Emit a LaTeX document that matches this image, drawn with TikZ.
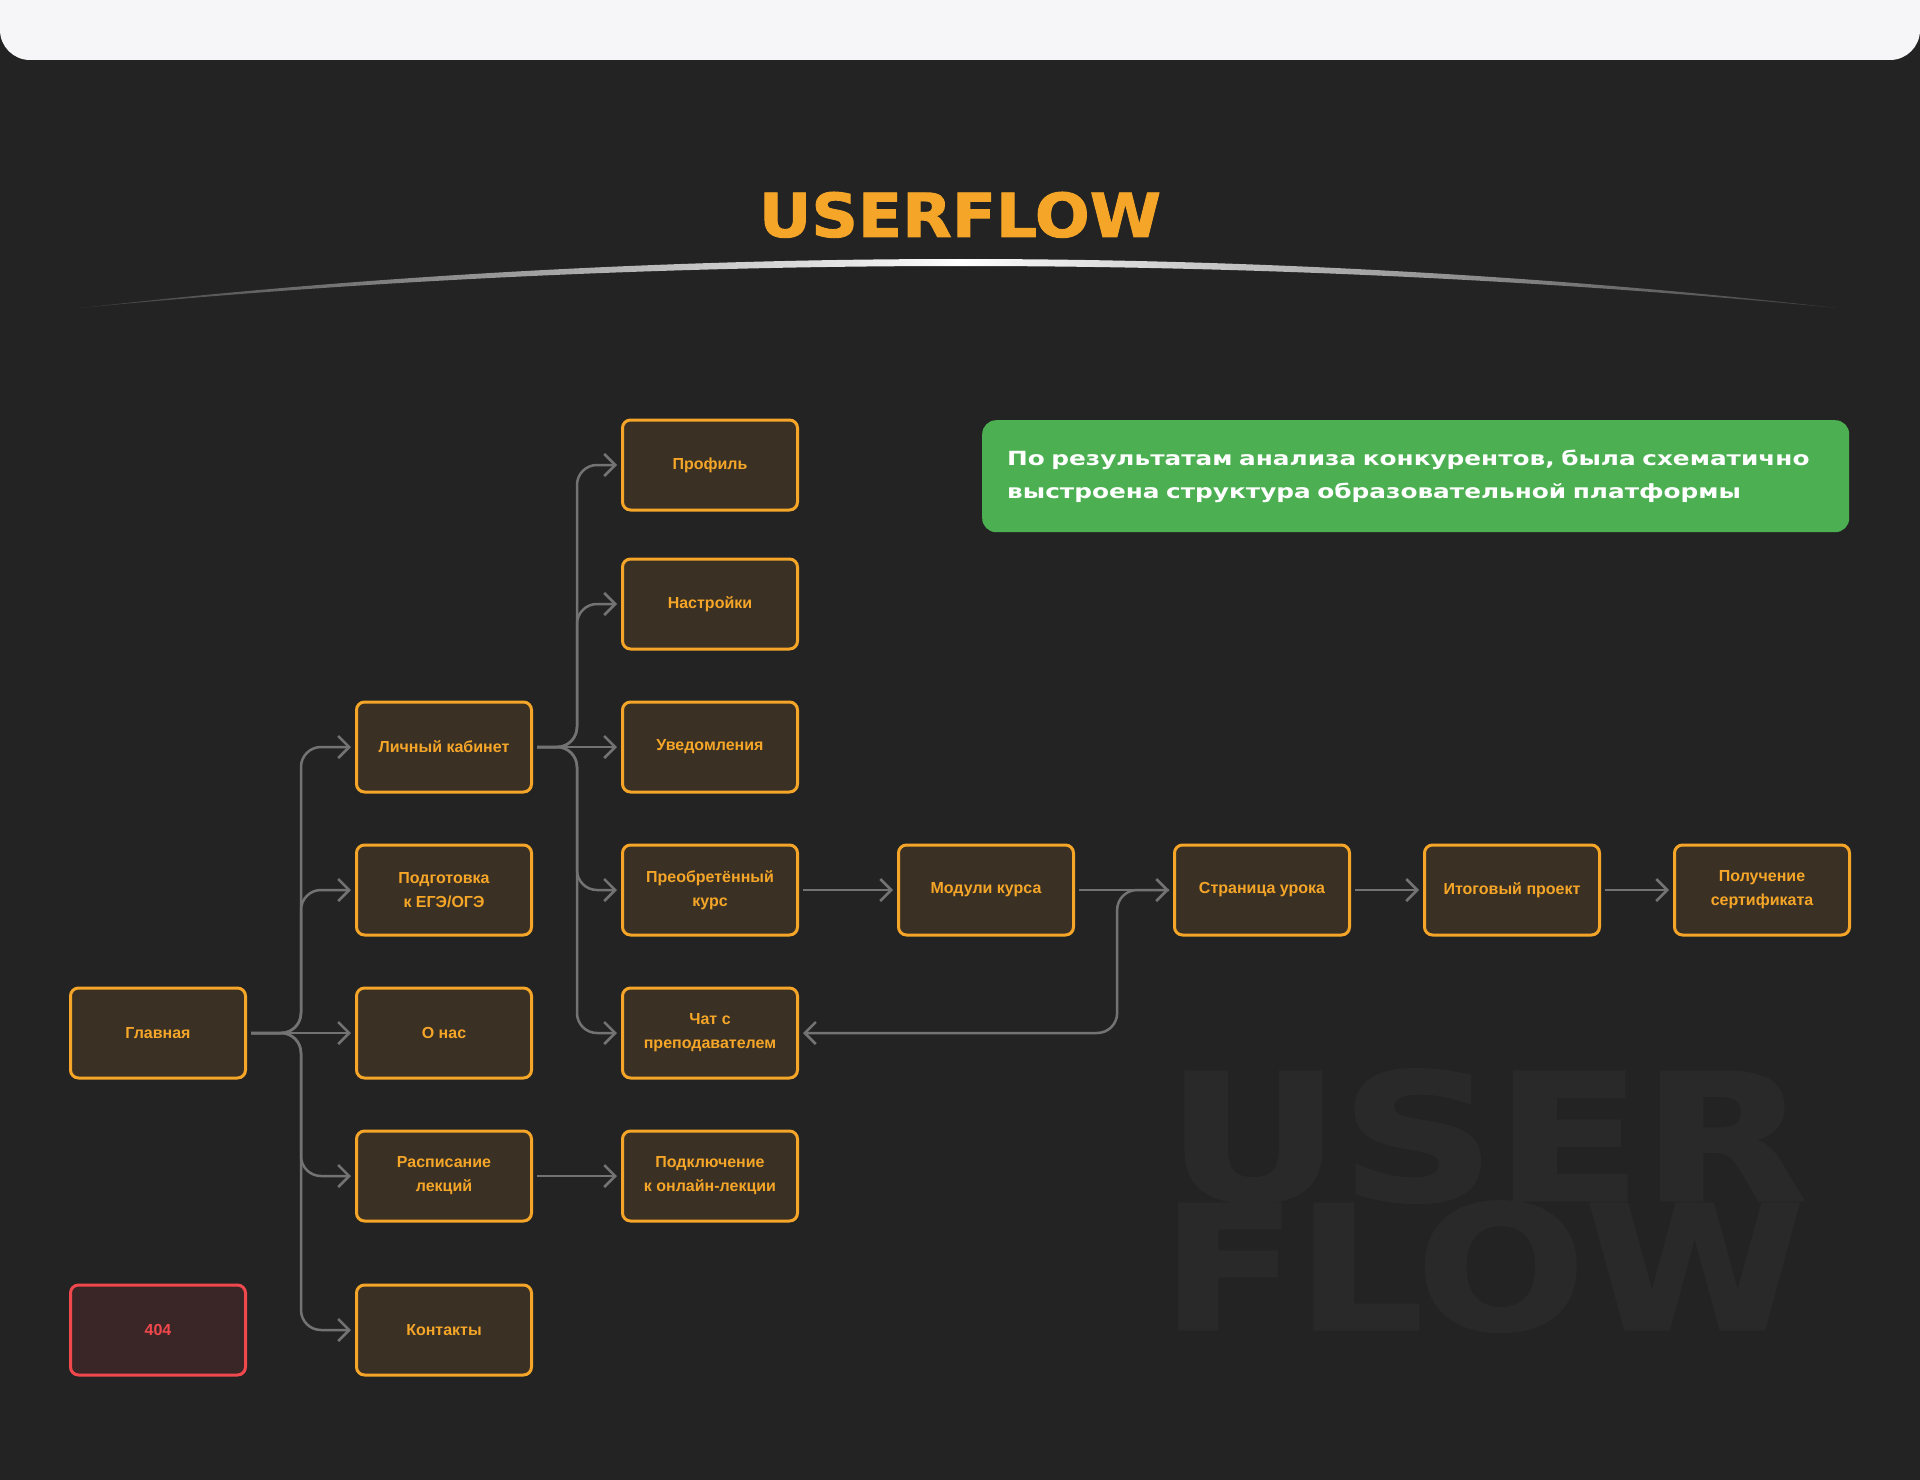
\documentclass[tikz,border=0pt]{standalone}
\usepackage{fontspec}
\setmainfont{Liberation Sans}
\newfontfamily\widefont[FakeStretch=1.27]{DejaVu Sans}
\newfontfamily\heavyfont[FakeBold=1.5]{DejaVu Sans Bold}
\usepackage{graphicx}
\usepackage{xcolor}
\usetikzlibrary{arrows.meta}
\usetikzlibrary{calc}

\definecolor{bgdark}{RGB}{35,35,35}
\definecolor{barlight}{RGB}{246,246,248}
\definecolor{arcfade}{RGB}{60,60,60}
\definecolor{flowor}{RGB}{245,166,40}
\definecolor{boxfill}{RGB}{58,48,36}
\definecolor{linkgray}{RGB}{115,115,115}
\definecolor{errred}{RGB}{240,72,76}
\definecolor{errfill}{RGB}{58,38,38}
\definecolor{notegreen}{RGB}{76,176,82}
\definecolor{ghost}{RGB}{41,41,41}

\tikzset{
  pg/.style={rectangle,rounded corners=8pt,draw=flowor,line width=3pt,fill=boxfill,
    minimum width=175pt,minimum height=90pt,text=flowor,align=center,
    font=\bfseries\fontsize{16}{24}\selectfont},
  errpg/.style={pg,draw=errred,fill=errfill,text=errred},
  link/.style={draw=linkgray,line width=2.5pt,rounded corners=20pt,
    -{Straight Barb[length=11pt,width=22pt]},shorten <=4pt,shorten >=4pt}
}

\begin{document}
\begin{tikzpicture}[x=1pt,y=-1pt]
\useasboundingbox (0,0) rectangle (1920,1480);
\fill[bgdark] (0,0) rectangle (1920,1480);
\begin{scope}
  \clip (0,0) rectangle (1920,1480);
  \fill[barlight,rounded corners=30pt] (0,-60) rectangle (1920,60);
\end{scope}

% heading
\node[anchor=south,inner sep=0,text=flowor] (title) at (960,238)
  {\resizebox{402pt}{45pt}{\heavyfont USERFLOW}};
\shade[left color=arcfade,right color=arcfade,middle color=white]
  (80,308) parabola bend (961,259) (1837,308)
  parabola bend (961,266) (80,308) -- cycle;

% background lettering
\node[anchor=south west,inner sep=0,text=ghost] (wmuser) at (1166,1203)
  {\resizebox{640pt}{131pt}{\heavyfont USER}};
\node[anchor=south west,inner sep=0,text=ghost] (wmflow) at (1161,1332)
  {\resizebox{643pt}{128pt}{\heavyfont FLOW}};

% note
\node[anchor=north west,fill=notegreen,rounded corners=14pt,text=white,
  text width=817pt,inner xsep=25pt,minimum height=112pt,align=left,
  font=\widefont\bfseries\fontsize{19.5}{33}\selectfont] (note) at (982,420)
  {По результатам анализа конкурентов, была схематично\\
   выстроена структура образовательной платформы};

% site map
\begin{scope}[every node/.style={pg},grow'=right,
  level 1/.style={level distance=286pt,sibling distance=143pt},
  level 2/.style={level distance=266pt,sibling distance=143pt},
  level 3/.style={level distance=276pt},
  level 4/.style={level distance=276pt},
  level 5/.style={level distance=250pt},
  level 6/.style={level distance=250pt},
  edge from parent/.style={draw=none}]
\node (main) at (158,1033) {Главная}
  child{node (cab) {Личный кабинет}
    child{node[yshift=-4pt] (prof) {Профиль}}
    child{node (sett) {Настройки}}
    child{node (notif) {Уведомления}}
    child{node (course) {Преобретённый\\курс}
      child{node (mods) {Модули курса}
        child{node (page) {Страница урока}
          child{node (final) {Итоговый проект}
            child{node (cert) {Получение\\сертификата}}}}}}
    child{node (chat) {Чат с\\преподавателем}}}
  child{node (prep) {Подготовка\\к ЕГЭ/ОГЭ}}
  child{node (about) {О нас}}
  child{node (sched) {Расписание\\лекций}
    child{node (live) {Подключение\\к онлайн-лекции}}}
  child{node[yshift=-11pt] (cont) {Контакты}};
\end{scope}
\node[errpg] (lost) at (158,1330) {404};

% connectors
\coordinate (jmain) at ($(main.east)!.5!(about.west)$);
\coordinate (jcab) at ($(cab.east)!.5!(notif.west)$);
\coordinate (jback) at ($(mods.east)!.43!(page.west)$);
\foreach \kid in {cab,prep,sched,cont}
  \draw[link] (main.east) -- (jmain) |- (\kid.west);
\draw[link] (main) -- (about);
\foreach \kid in {prof,sett,course,chat}
  \draw[link] (cab.east) -- (jcab) |- (\kid.west);
\draw[link] (cab) -- (notif);
\draw[link] (sched) -- (live);
\draw[link] (course) -- (mods);
\draw[link] (mods) -- (page);
\draw[link] (page) -- (final);
\draw[link] (final) -- (cert);
\draw[link] (page.west) -- (jback) |- (chat.east);
\end{tikzpicture}
\end{document}
